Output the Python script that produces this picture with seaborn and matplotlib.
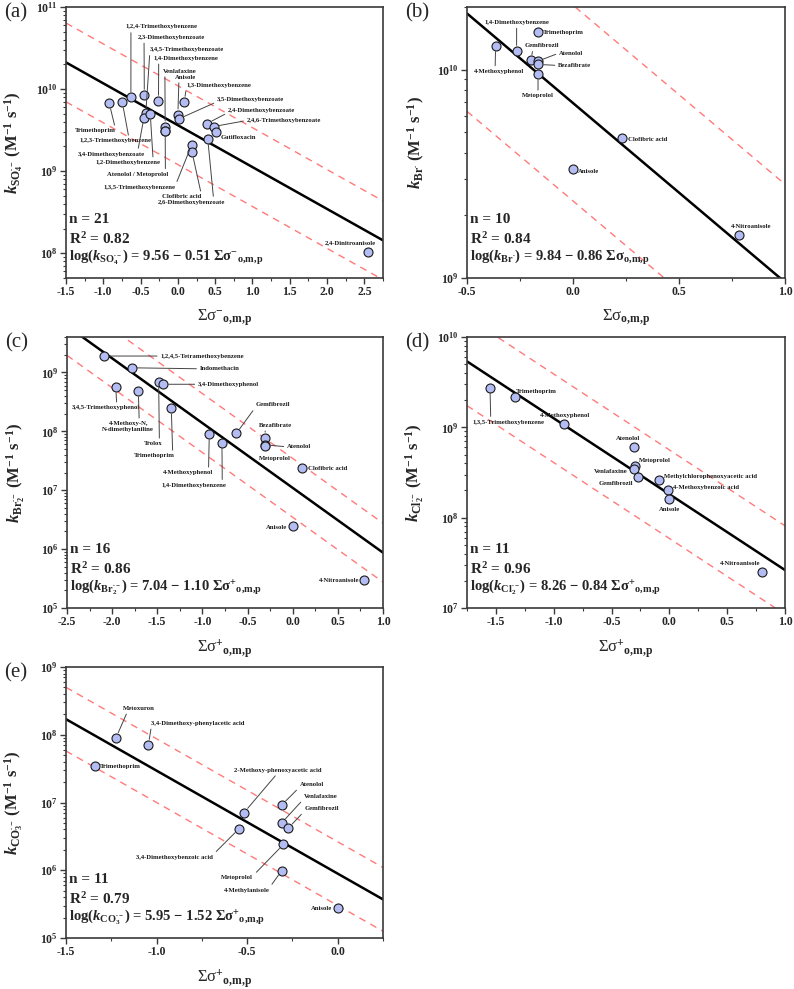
import numpy as np
import pandas as pd
import matplotlib
matplotlib.use("Agg")
import matplotlib.pyplot as plt
from matplotlib.ticker import LogLocator, MultipleLocator, NullFormatter, FormatStrFormatter
import seaborn as sns

sns.set_style("ticks")
plt.rcParams['font.family'] = ['Liberation Serif', 'DejaVu Serif']
plt.rcParams['font.weight'] = 'bold'
plt.rcParams['mathtext.fontset'] = 'custom'
plt.rcParams['mathtext.rm'] = 'Liberation Serif:bold'
plt.rcParams['mathtext.it'] = 'Liberation Serif:italic:bold'
plt.rcParams['mathtext.bf'] = 'Liberation Serif:bold'
plt.rcParams['mathtext.sf'] = 'Liberation Serif'
plt.rcParams['axes.unicode_minus'] = False

# ---------------- data ----------------
# (a) SO4.-
a_names = ['Trimethoprim', '1,2,3-Trimethoxybenzene', '1,2,4-Trimethoxybenzene', '2,3-Dimethoxybenzoate',
           '3,4,5-Trimethoxybenzoate', '3,4-Dimethoxybenzoate', '1,2-Dimethoxybenzene', '1,4-Dimethoxybenzene',
           'Venlafaxine', 'Atenolol', 'Metoprolol', 'Anisole', '3,5-Dimethoxybenzoate', '1,3-Dimethoxybenzene',
           '2,4-Dimethoxybenzoate', '2,4,6-Trimethoxybenzoate', 'Gatifloxacin', '2,6-Dimethoxybenzoate',
           '1,3,5-Trimethoxybenzene', 'Clofibric acid', '2,4-Dinitroanisole']
a_sigma = [-0.92, -0.745, -0.63, -0.45, -0.43, -0.455, -0.37, -0.26, -0.17, -0.17, -0.17, 0.0, 0.015, 0.086,
           0.39, 0.48, 0.515, 0.40, 0.185, 0.19, 2.55]
a_k = [6.7e9, 6.9e9, 7.9e9, 8.5e9, 5.06e9, 4.5e9, 4.95e9, 7.2e9, 3.5e9, 3.1e9, 3.1e9, 4.9e9, 4.35e9, 7.0e9,
       3.8e9, 3.5e9, 3.0e9, 2.5e9, 2.1e9, 1.7e9, 1.03e8]

# (b) Br.
b_names = ['4-Methoxyphenol', '1,4-Dimethoxybenzene', 'Trimethoprim', 'Gemfibrozil', 'Atenolol', 'Bezafibrate',
           'Metoprolol', 'Clofibric acid', 'Anisole', '4-Nitroanisole']
b_sigma = [-0.365, -0.266, -0.165, -0.198, -0.165, -0.165, -0.165, 0.233, 0.0, 0.785]
b_k = [1.30e10, 1.23e10, 1.52e10, 1.11e10, 1.10e10, 1.06e10, 9.5e9, 4.7e9, 3.33e9, 1.61e9]

# (c) Br2.-
c_names = ['1,2,4,5-Tetramethoxybenzene', 'Indomethacin', '3,4,5-Trimethoxyphenol', '4-Methoxy-N,N-dimethylaniline',
           'Trolox', '3,4-Dimethoxyphenol', 'Trimethoprim', '4-Methoxyphenol', '1,4-Dimethoxybenzene', 'Gemfibrozil',
           'Bezafibrate', 'Atenolol', 'Metoprolol', 'Clofibric acid', 'Anisole', '4-Nitroanisole']
c_sigma = [-2.087, -1.784, -1.96, -1.71, -1.485, -1.437, -1.345, -0.924, -0.784, -0.625, -0.307, -0.307, -0.307,
           0.106, 0.0, 0.789]
c_k = [1.9e9, 1.2e9, 5.6e8, 4.8e8, 6.8e8, 6.3e8, 2.45e8, 8.9e7, 6.4e7, 9.2e7, 7.8e7, 5.9e7, 5.7e7, 2.4e7,
       2.46e6, 3.0e5]

# (d) Cl2.-
d_names = ['1,3,5-Trimethoxybenzene', 'Trimethoprim', '4-Methoxyphenol', 'Atenolol', 'Metoprolol', 'Venlafaxine',
           'Gemfibrozil', 'Methylchlorophenoxyacetic acid', '4-Methoxybenzoic acid', 'Anisole', '4-Nitroanisole']
d_sigma = [-1.551, -1.332, -0.911, -0.303, -0.297, -0.31, -0.273, -0.089, -0.014, 0.0, 0.80]
d_k = [2.75e9, 2.15e9, 1.1e9, 6.0e8, 3.7e8, 3.5e8, 2.85e8, 2.6e8, 2.03e8, 1.6e8, 2.5e7]

# (e) CO3.-
e_names = ['Metoxuron', '3,4-Dimethoxy-phenylacetic acid', 'Trimethoprim', '2-Methoxy-phenoxyacetic acid',
           'Atenolol', 'Venlafaxine', 'Gemfibrozil', '3,4-Dimethoxybenzoic acid', 'Metoprolol', '4-Methylanisole',
           'Anisole']
e_sigma = [-1.224, -1.045, -1.342, -0.517, -0.309, -0.309, -0.272, -0.545, -0.30, -0.309, 0.0]
e_k = [9.0e7, 7.1e7, 3.5e7, 7.1e6, 9.2e6, 5.0e6, 4.2e6, 4.1e6, 2.4e6, 9.9e5, 2.8e5]

# regression: intercept, slope, prediction band half width (log units), n, R2
fit_intercept = [9.56, 9.84, 7.04, 8.26, 5.95]
fit_slope = [-0.51, -0.86, -1.10, -0.84, -1.52]
band_half = [0.48, 0.47, 0.50, 0.49, 0.47]
n_pts = [21, 10, 16, 11, 11]
r2 = ['0.82', '0.84', '0.86', '0.96', '0.79']

# ---------------- label layout (offset px, ha, va, leader relpos) ----------------
a_lab = {
    'Trimethoprim': (None, -34, -25, 'left', 'top', (0.98, 1)),
    '1,2,3-Trimethoxybenzene': (None, -43, -36, 'left', 'top', (0.69, 1)),
    '1,2,4-Trimethoxybenzene': (None, -5, 68, 'left', 'bottom', (0.07, 0)),
    '2,3-Dimethoxybenzoate': (None, -7, 55, 'left', 'bottom', (0.1, 0)),
    '3,4,5-Trimethoxybenzoate': (None, 4, 61, 'left', 'bottom', (0, 0)),
    '3,4-Dimethoxybenzoate': (None, -66, -34, 'left', 'top', (0.89, 1)),
    '1,2-Dimethoxybenzene': (None, -55, -46, 'left', 'top', (0.89, 1)),
    '1,4-Dimethoxybenzene': (None, -5, 40, 'left', 'bottom', (0.08, 0)),
    'Venlafaxine': (None, -2, 53, 'left', 'bottom', (0.05, 0)),
    'Atenolol': ('Atenolol / Metoprolol', -58, -41, 'left', 'top', (0.95, 1)),
    'Anisole': (None, -3, 35, 'left', 'bottom', (0.19, 0)),
    '3,5-Dimethoxybenzoate': (None, 38, 17, 'left', 'bottom', (0, 0)),
    '1,3-Dimethoxybenzene': (None, 2, 14, 'left', 'bottom', (0, 0)),
    '2,4-Dimethoxybenzoate': (None, 21, 11, 'left', 'bottom', (0, 0)),
    '2,4,6-Trimethoxybenzoate': (None, 33, 6, 'left', 'center', (0, 0.5)),
    'Gatifloxacin': (None, 4, -5, 'left', 'center', None),
    '2,6-Dimethoxybenzoate': (None, -50, -61, 'left', 'top', (0.83, 1)),
    'Clofibric acid': (None, -30, -42, 'left', 'top', (1, 1)),
    '1,3,5-Trimethoxybenzene': (None, -88, -40, 'left', 'top', (1, 1)),
    '2,4-Dinitroanisole': (None, -43, 7, 'left', 'bottom', None),
}
b_lab = {
    '1,4-Dimethoxybenzene': (None, 0, 26, 'center', 'bottom', (0.5, 0)),
    'Trimethoprim': (None, 5, -1, 'left', 'center', None),
    '4-Methoxyphenol': (None, 3, -23, 'center', 'top', (0.43, 1)),
    'Gemfibrozil': (None, -6, 12, 'left', 'bottom', (0.23, 0)),
    'Atenolol': (None, 21, 8, 'left', 'center', (0, 0.5)),
    'Bezafibrate': (None, 20, -1, 'left', 'center', (0, 0.5)),
    'Metoprolol': (None, 0, -19, 'center', 'top', (0.5, 1)),
    'Clofibric acid': (None, 6, -1, 'left', 'center', None),
    'Anisole': (None, 5, -2, 'left', 'center', None),
    '4-Nitroanisole': (None, 12, 6, 'center', 'bottom', None),
}
c_lab = {
    '1,2,4,5-Tetramethoxybenzene': (None, 56, 0, 'left', 'center', (0, 0.5)),
    'Indomethacin': (None, 68, -1, 'left', 'center', (0, 0.5)),
    '3,4-Dimethoxyphenol': (None, 35, 0, 'left', 'center', (0, 0.5)),
    '3,4,5-Trimethoxyphenol': (None, -44, -18, 'left', 'top', (0.66, 1)),
    '4-Methoxy-N,N-dimethylaniline': ('4-Methoxy-N,\nN-dimethylaniline', -10, -30, 'center', 'top', (0.71, 1)),
    'Trolox': (None, -15, -59, 'left', 'top', (0.84, 1)),
    'Trimethoprim': (None, -37, -45, 'left', 'top', (0.94, 1)),
    'Gemfibrozil': (None, 19, 26, 'left', 'bottom', (0, 0)),
    'Bezafibrate': (None, -6, 10, 'left', 'bottom', (0.19, 0)),
    'Atenolol': (None, 22, -2, 'left', 'center', (0, 0.5)),
    'Metoprolol': (None, -6, -10, 'left', 'top', None),
    'Clofibric acid': (None, 6, -1, 'left', 'center', None),
    '4-Methoxyphenol': (None, -46, -36, 'left', 'top', (0.9, 1)),
    '1,4-Dimethoxybenzene': (None, -60, -40, 'left', 'top', (0.93, 1)),
    'Anisole': (None, -6, -1, 'right', 'center', None),
    '4-Nitroanisole': (None, -5, -1, 'right', 'center', None),
}
d_lab = {
    '1,3,5-Trimethoxybenzene': (None, -18, -32, 'left', 'top', (0.26, 1)),
    'Trimethoprim': (None, 1, 3, 'left', 'bottom', None),
    '4-Methoxyphenol': (None, 1, 6, 'center', 'bottom', None),
    'Atenolol': (None, -6, 6, 'center', 'bottom', None),
    'Metoprolol': (None, 4, 3, 'left', 'bottom', None),
    'Venlafaxine': (None, -6, -3, 'right', 'center', None),
    'Gemfibrozil': (None, -5, -7, 'right', 'center', None),
    'Methylchlorophenoxyacetic acid': (None, 5, 4, 'left', 'center', None),
    '4-Methoxybenzoic acid': (None, 5, 2, 'left', 'center', None),
    'Anisole': (None, 0, -8, 'center', 'top', None),
    '4-Nitroanisole': (None, -22, 6, 'center', 'bottom', None),
}
e_lab = {
    'Metoxuron': (None, 7, 27, 'left', 'bottom', (0.15, 0)),
    '3,4-Dimethoxy-phenylacetic acid': (None, 3, 19, 'left', 'bottom', (0, 0)),
    'Trimethoprim': (None, 5, -1, 'left', 'center', None),
    '2-Methoxy-phenoxyacetic acid': (None, 34, 40, 'center', 'bottom', (0.5, 0)),
    'Atenolol': (None, 18, 18, 'left', 'bottom', (0, 0)),
    'Venlafaxine': (None, 22, 24, 'left', 'bottom', (0, 0)),
    'Gemfibrozil': (None, 16, 17, 'left', 'bottom', (0, 0)),
    '3,4-Dimethoxybenzoic acid': (None, -26, -26, 'right', 'top', (1, 1)),
    'Metoprolol': (None, -62, -31, 'left', 'top', (1, 1)),
    '4-Methylanisole': (None, -58, -17, 'left', 'top', (1, 1)),
    'Anisole': (None, -6, -1, 'right', 'center', None),
}

SUBS = {'a': r'\mathrm{SO}_4^{\bullet-}', 'b': r'\mathrm{Br}^{\bullet}', 'c': r'\mathrm{Br}_2^{\bullet-}',
        'd': r'\mathrm{Cl}_2^{\bullet-}', 'e': r'\mathrm{CO}_3^{\bullet-}'}
SIGMA_SUP = {'a': '$^{-}$', 'b': '', 'c': '$^{+}$', 'd': '$^{+}$', 'e': '$^{+}$'}
OMP = r'${}_{\mathrm{o{,}m{,}p}}$'

panels = [
    ('a', a_names, a_sigma, a_k, a_lab, (-1.5, 2.75), (5e7, 1e11), [66, 7, 317, 271]),
    ('b', b_names, b_sigma, b_k, b_lab, (-0.5, 1.0), (1e9, 2e10), [467, 7, 318, 271]),
    ('c', c_names, c_sigma, c_k, c_lab, (-2.5, 1.0), (1e5, 4e9), [67, 337, 316, 271]),
    ('d', d_names, d_sigma, d_k, d_lab, (-1.75, 1.0), (1e7, 1e10), [467, 337, 318, 271]),
    ('e', e_names, e_sigma, e_k, e_lab, (-1.5, 0.25), (1e5, 1e9), [66, 667, 317, 271]),
]

W, H = 794, 989
fig = plt.figure(figsize=(W / 100, H / 100), dpi=100)
frame = '#3a3a3a'

for i, (tag, names, sig, kk, lab, xl, yl, box) in enumerate(panels):
    x0, y0, w, h = box
    ax = fig.add_axes([x0 / W, 1 - (y0 + h) / H, w / W, h / H])
    df = pd.DataFrame({'name': names, 'sigma': sig, 'k': kk})
    ax.set_yscale('log')

    xs = np.array(xl)
    fit = fit_intercept[i] + fit_slope[i] * xs
    ax.plot(xs, 10 ** fit, color='black', lw=1.8, zorder=2)
    for sgn in (1, -1):
        ax.plot(xs, 10 ** (fit + sgn * band_half[i]), color='#ff7a7a', lw=1.0,
                linestyle=(0, (5, 4)), zorder=1)

    sns.scatterplot(data=df, x='sigma', y='k', ax=ax, s=42, color='#b3bdf3',
                    edgecolor='#1a1a1a', linewidth=0.8, zorder=3, legend=False)

    for _, row in df.iterrows():
        if row['name'] not in lab:
            continue
        txt, dx, dy, ha, va, rel = lab[row['name']]
        txt = txt or row['name']
        arrow = None
        if rel is not None:
            arrow = dict(arrowstyle='-', color='#444444', lw=0.7, relpos=rel, shrinkA=0, shrinkB=4)
        ax.annotate(txt, xy=(row['sigma'], row['k']), xytext=(dx, dy), textcoords='offset pixels',
                    ha=ha, va=va, fontsize=4.8, fontweight='bold', color='#1a1a1a',
                    multialignment='center', arrowprops=arrow, zorder=4)

    ax.set_xlim(*xl)
    ax.set_ylim(*yl)
    ax.xaxis.set_major_locator(MultipleLocator(0.5))
    ax.xaxis.set_minor_locator(MultipleLocator(0.25))
    ax.xaxis.set_major_formatter(FormatStrFormatter('%.1f'))
    ax.yaxis.set_major_locator(LogLocator(base=10, numticks=20))
    ax.yaxis.set_minor_locator(LogLocator(base=10, subs=np.arange(2, 10), numticks=20))
    ax.yaxis.set_minor_formatter(NullFormatter())
    ax.tick_params(which='major', direction='out', length=4, width=1, color=frame, labelsize=8.5, pad=2)
    ax.tick_params(which='minor', direction='out', length=2, width=0.8, color=frame)
    for sp in ax.spines.values():
        sp.set_visible(True)
        sp.set_color(frame)
        sp.set_linewidth(1.2)

    sub = SUBS[tag]
    ax.set_ylabel(r'$k_{%s}$ (M$^{-1}$ s$^{-1}$)' % sub, fontsize=12, fontweight='bold')
    ax.yaxis.set_label_coords(-0.125, 0.5)
    ax.set_xlabel('Σσ' + SIGMA_SUP[tag] + OMP, fontsize=12, fontweight='normal')
    ax.xaxis.set_label_coords(0.5, -0.11)

    ax.text(0.01, 0.215, 'n = %d' % n_pts[i], transform=ax.transAxes, fontsize=11, va='center')
    ax.text(0.01, 0.145, 'R$^{2}$ = %s' % r2[i], transform=ax.transAxes, fontsize=11, va='center')
    sl = fit_slope[i]
    eq = r'log($k_{%s}$) = %.2f − %.2f Σσ' % (sub, fit_intercept[i], abs(sl)) + SIGMA_SUP[tag] + OMP
    ax.text(0.01, 0.075, eq, transform=ax.transAxes, fontsize=10.5, va='center')

    fig.text((x0 - 62) / W, 1 - 3 / H - (y0 - 7) / H, '(%s)' % tag, fontsize=15, fontweight='normal',
             ha='left', va='top')

fig.savefig('out.png', dpi=100)
